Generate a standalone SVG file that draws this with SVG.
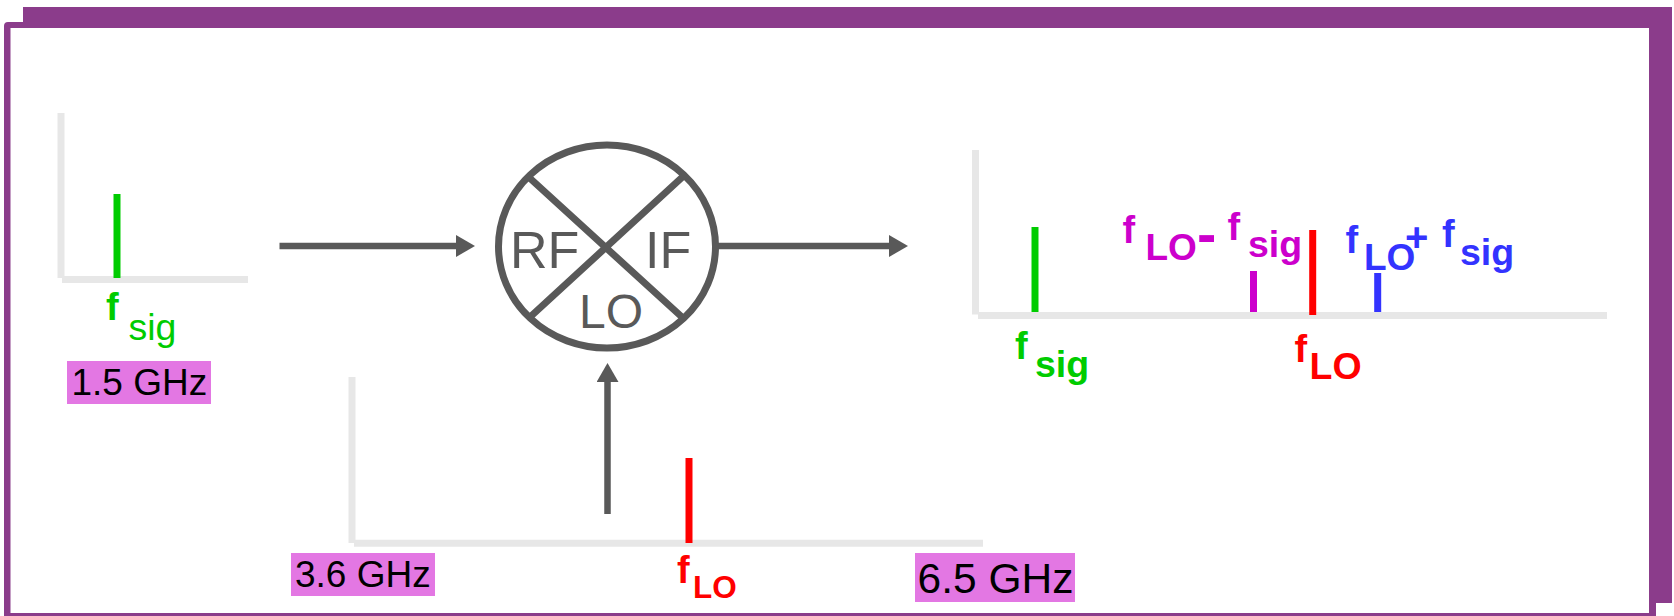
<svg xmlns="http://www.w3.org/2000/svg" width="1674" height="616" viewBox="0 0 1674 616">
<defs>
<marker id="ah" markerUnits="userSpaceOnUse" markerWidth="20" markerHeight="22" refX="8" refY="11" orient="auto"><path d="M0,0 L19,11 L0,22 Z" fill="#595959"/></marker>
</defs>
<style>
text{font-family:"Liberation Sans",Arial,sans-serif}
.ax{stroke:#e7e7e7;stroke-width:7;fill:none}
.cn{stroke:#595959;stroke-width:6.5;fill:none}
.sp{stroke-width:7;fill:none}
.b{font-weight:700}
.lb{fill:#e377e3}
.t{fill:#000;font-size:37px}
.g{fill:#00cc00}.r{fill:#ff0000}.m{fill:#cc00cc}.u{fill:#3333ff}
.mx{fill:#595959}
</style>
<rect width="1674" height="616" fill="#fff"/>
<g id="frame">
<path fill="#8b3c8b" d="M23,7H1672V603H1656V616H4V26Q4,22 8,22H23Z"/>
<rect x="10.5" y="28" width="1638.5" height="585" fill="#fff"/>
</g>
<g id="connectors">
<path class="cn" d="M279.5,246H464" marker-end="url(#ah)"/>
<path class="cn" d="M717,246H897" marker-end="url(#ah)"/>
<path class="cn" d="M607.5,514V374" marker-end="url(#ah)"/>
</g>
<g id="mixer">
<ellipse cx="607" cy="246.5" rx="108.5" ry="101.5" fill="#fff" stroke="#595959" stroke-width="7"/>
<path d="M528,176.5L683,318M683,176.5L529,318" stroke="#595959" stroke-width="7" fill="none"/>
<text class="mx" font-size="52" x="510" y="268">RF</text>
<text class="mx" font-size="52" x="645" y="268">IF</text>
<text class="mx" font-size="48" x="579" y="327.5">LO</text>
</g>
<g id="input-spectrum">
<path class="ax" d="M61,113V278M62,279.5H248"/>
<path class="sp" stroke="#00cc00" d="M117,194V278"/>
<text class="g b" font-size="38" x="106" y="320">f</text>
<text class="g" font-size="37.5" x="128.5" y="340">sig</text>
<rect class="lb" x="67" y="361" width="144" height="43"/>
<text class="t" x="71.5" y="395">1.5 GHz</text>
</g>
<g id="lo-spectrum">
<path class="ax" d="M352,377V543M354,543.3H983"/>
<path class="sp" stroke="#ff0000" d="M689,458V543"/>
<text class="r b" font-size="38" x="677" y="583">f</text>
<text class="r b" font-size="31.5" x="693" y="598">LO</text>
<rect class="lb" x="291" y="553" width="144" height="43"/>
<text class="t" x="295" y="587">3.6 GHz</text>
<rect class="lb" x="915" y="553" width="160" height="49"/>
<text class="t" style="font-size:42.5px" x="917.5" y="593">6.5 GHz</text>
</g>
<g id="output-spectrum">
<path class="ax" d="M975.5,150V314.5M978,315.5H1607"/>
<path class="sp" stroke="#00cc00" d="M1035,227V312"/>
<path class="sp" stroke="#cc00cc" d="M1253.5,271V312"/>
<path class="sp" stroke="#ff0000" d="M1312.7,230V315"/>
<path class="sp" stroke="#3333ff" d="M1377.7,273V312"/>
<text class="g b" font-size="38" x="1015" y="359">f</text>
<text class="g b" font-size="37.5" x="1035" y="377">sig</text>
<text class="r b" font-size="38" x="1294.5" y="362">f</text>
<text class="r b" font-size="37.5" x="1309.5" y="379">LO</text>
<text class="m b" font-size="38" x="1122.5" y="243">f</text>
<text class="m b" font-size="37" x="1145.5" y="260">LO</text>
<text class="m b" font-size="58" x="1197" y="254">-</text>
<text class="m b" font-size="38" x="1227.5" y="240">f</text>
<text class="m b" font-size="37.5" x="1248" y="257">sig</text>
<text class="u b" font-size="38" x="1345.5" y="253">f</text>
<text class="u b" font-size="37" x="1364" y="270">LO</text>
<text class="u b" font-size="40" x="1405" y="251">+</text>
<text class="u b" font-size="38" x="1442" y="247">f</text>
<text class="u b" font-size="37.5" x="1460" y="265">sig</text>
</g>
</svg>
